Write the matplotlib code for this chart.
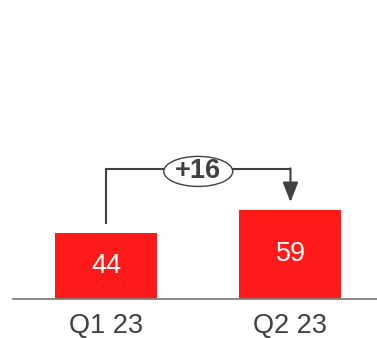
import matplotlib
matplotlib.use("Agg")
import matplotlib.pyplot as plt
from matplotlib.patches import Ellipse

plt.rcParams['font.family'] = ['Liberation Sans', 'DejaVu Sans']

categories = ["Q1 23", "Q2 23"]
values = [44, 59]
delta_label = "+16"

bar_color = "#ff1a1a"
text_color = "#404040"

fig = plt.figure(figsize=(3.77, 3.38), dpi=100)
ax = fig.add_axes([0, 0, 1, 1])
ax.set_xlim(-0.5745, 1.469)
ax.set_ylim(-25.8, 198)
ax.axis("off")

x = list(range(len(categories)))
ax.bar(x, values, width=0.553, color=bar_color, zorder=2)

# baseline
ax.axhline(0, xmin=0.0345, xmax=1, color="#808080", lw=1.3, zorder=3)

# value labels inside bars and category labels below
for xi, v, c in zip(x, values, categories):
    ax.text(xi, v / 2, str(v), ha="center", va="center",
            color="white", fontsize=19.5)
    ax.text(xi, -17.9, c, ha="center", va="center",
            color=text_color, fontsize=19.5)

# change bracket from first bar to second
top = max(values) + 27
start = values[0] + 6.3
end = values[1] + 5.2
ax.plot([x[0], x[0], x[1]], [start, top, top], color=text_color,
        lw=1.5, solid_joinstyle="miter", zorder=3)
ax.annotate("", xy=(x[1], end), xytext=(x[1], top + 0.5),
            arrowprops=dict(arrowstyle="-|>,head_length=1.2,head_width=0.47",
                            color=text_color, lw=1.5, shrinkA=0, shrinkB=0),
            zorder=3)

mid = (x[0] + x[1]) / 2
ax.add_patch(Ellipse((mid, top - 1.5), width=0.374, height=19.9,
                     facecolor="white", edgecolor=text_color, lw=1.0, zorder=4))
ax.text(mid, top - 1.5, delta_label, ha="center", va="center",
        color=text_color, fontsize=19.5, fontweight="bold", zorder=5)

fig.savefig("out.png", dpi=100)
